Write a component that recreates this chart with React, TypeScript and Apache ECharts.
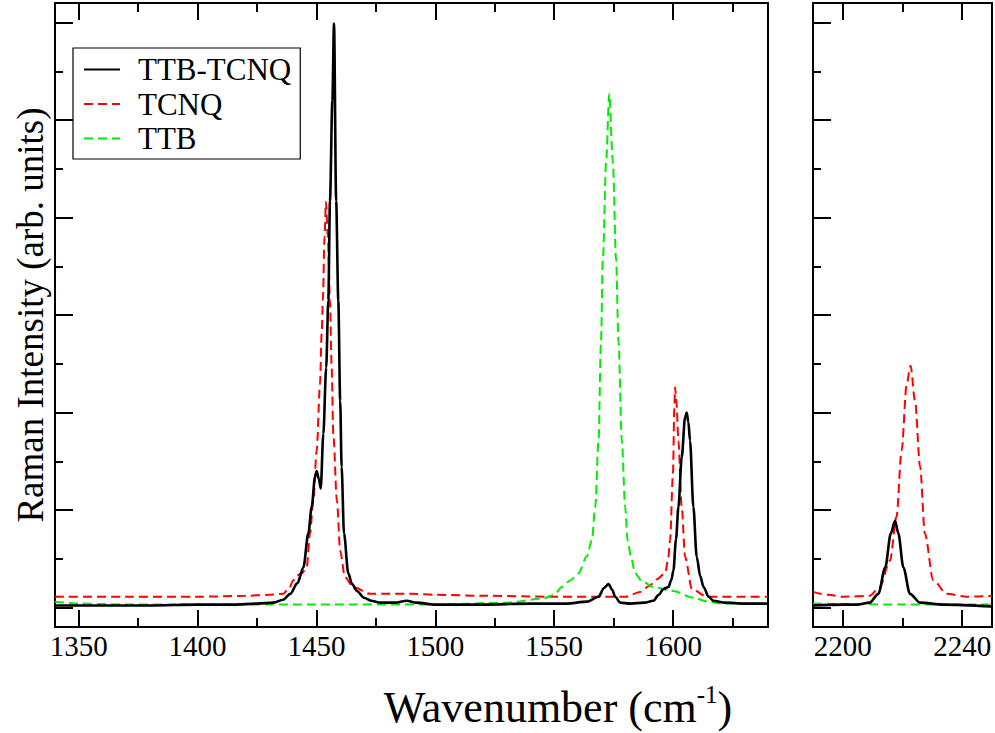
import React, { useEffect, useRef } from "react";
import * as echarts from "echarts";

// ---- axis ticks / labels ----
const leftXMajor = [1350, 1400, 1450, 1500, 1550, 1600];
const leftXMinor = [1375, 1425, 1475, 1525, 1575, 1625];
const rightXMajor = [2200, 2240];
const rightXMinor = [2220];
const yMajor = [0, 1, 2, 3, 4, 5, 6];
const yMinor = [0.5, 1.5, 2.5, 3.5, 4.5, 5.5];

// ---- left panel (1340–1640 cm-1) ----
const ttbTcnqLeft = [
  [1340, 0.02], [1360, 0.02], [1380, 0.02], [1400, 0.03], [1415, 0.03], [1425, 0.04],
  [1432, 0.05], [1436, 0.08], [1439, 0.14], [1442, 0.25], [1444.5, 0.41], [1446.6, 0.76],
  [1448, 1.03], [1449.4, 1.34], [1450.1, 1.4], [1451, 1.32], [1451.8, 1.22], [1452.9, 1.78],
  [1454.1, 2.46], [1455, 3.15], [1455.7, 4.17], [1456.7, 5.2], [1457.4, 5.99], [1458.3, 4.17],
  [1459.2, 3.15], [1460, 2.12], [1460.6, 1.44], [1461.6, 0.76], [1463.4, 0.35], [1465, 0.24],
  [1467, 0.17], [1470, 0.1], [1473, 0.07], [1477, 0.05], [1483, 0.05], [1488, 0.07],
  [1492, 0.05], [1500, 0.03], [1520, 0.03], [1540, 0.04], [1555, 0.04], [1564, 0.06],
  [1568.7, 0.11], [1571, 0.2], [1572.9, 0.24], [1574.5, 0.18], [1575.7, 0.11], [1577.8, 0.05],
  [1582, 0.04], [1588, 0.05], [1591.8, 0.07], [1594, 0.13], [1596, 0.19], [1598.1, 0.21],
  [1599.3, 0.28], [1600.2, 0.38], [1601.3, 0.7], [1602.3, 1.03], [1603.7, 1.54], [1605.1, 1.95],
  [1605.8, 2.0], [1606.5, 1.9], [1607.2, 1.71], [1608.6, 1.03], [1610, 0.52], [1611.5, 0.32],
  [1612.9, 0.21], [1615, 0.11], [1617, 0.07], [1622, 0.05], [1630, 0.04], [1640, 0.04],
];
const tcnqLeft = [
  [1340, 0.11], [1370, 0.11], [1400, 0.11], [1420, 0.12], [1430, 0.13], [1436, 0.14],
  [1438.5, 0.2], [1440.3, 0.28], [1442, 0.33], [1443.8, 0.35], [1445.9, 0.41], [1447.3, 0.76],
  [1448.7, 1.1], [1450.1, 1.61], [1451.5, 2.29], [1452.2, 2.81], [1452.7, 3.15], [1453.4, 3.8],
  [1454, 4.16], [1454.8, 3.8], [1455.7, 3.15], [1456.4, 2.46], [1457.1, 1.78], [1458.6, 1.1],
  [1460, 0.58], [1462, 0.31], [1465.5, 0.21], [1472.6, 0.14], [1490, 0.14], [1500, 0.13],
  [1520, 0.12], [1550, 0.11], [1580, 0.11], [1586.2, 0.16], [1590, 0.22], [1593.2, 0.29],
  [1596.7, 0.35], [1598, 0.5], [1598.8, 0.69], [1600, 1.37], [1600.6, 2.05], [1600.9, 2.26],
  [1601.5, 2.1], [1602.3, 1.71], [1603.7, 1.03], [1605.1, 0.52], [1608, 0.19], [1614.3, 0.11],
  [1640, 0.11],
];
const ttbLeft = [
  [1340, 0.06], [1350, 0.04], [1370, 0.03], [1400, 0.03], [1450, 0.03], [1500, 0.03],
  [1530, 0.05], [1545, 0.09], [1550, 0.13], [1553.3, 0.21], [1557, 0.28], [1560.2, 0.35],
  [1563.7, 0.52], [1565.9, 0.69], [1567.3, 1.03], [1568.7, 1.71], [1569.7, 2.7], [1570.5, 3.56],
  [1571.9, 4.58], [1573.2, 5.27], [1574.7, 4.58], [1576.1, 3.56], [1577.1, 2.72], [1578.5, 1.71],
  [1579.9, 1.03], [1580.9, 0.69], [1582.5, 0.5], [1584.1, 0.35], [1587, 0.27], [1591.7, 0.21],
  [1600, 0.17], [1608.5, 0.1], [1615, 0.06], [1620, 0.04], [1640, 0.04],
];

// ---- right panel (2190–2250 cm-1) ----
const ttbTcnqRight = [
  [2190, 0.02], [2200, 0.03], [2205, 0.03], [2209, 0.05], [2211.9, 0.14], [2214.2, 0.41],
  [2216.1, 0.76], [2217.5, 0.89], [2218.6, 0.76], [2220.3, 0.41], [2222.5, 0.14], [2225.9, 0.05],
  [2233.7, 0.03], [2250, 0.01],
];
const tcnqRight = [
  [2190, 0.16], [2195, 0.13], [2200, 0.11], [2209, 0.12], [2212.4, 0.21], [2215.8, 0.48],
  [2218, 0.93], [2219.7, 1.61], [2221.4, 2.29], [2222.7, 2.48], [2224.2, 2.12], [2225.9, 1.44],
  [2227.5, 0.76], [2230.3, 0.28], [2234.8, 0.14], [2241.5, 0.11], [2250, 0.12],
];
const ttbRight = [[2190, 0.04], [2220, 0.03], [2250, 0.03]];

const FONT = "Liberation Serif";

function xAxes(gridIndex: number, min: number, max: number, major: number[], minor: number[]) {
  const base = {
    type: "value", gridIndex, min, max,
    splitLine: { show: false },
    axisLine: { show: false, onZero: false },
  };
  const tick = (vals: number[], len: number) => ({
    show: true, inside: true, length: len, customValues: vals,
    lineStyle: { color: "#000", width: 2 },
  });
  return [
    {
      ...base, position: "bottom", axisTick: tick(major, 17),
      axisLabel: {
        show: true, customValues: major, margin: 4,
        fontSize: 29, fontFamily: FONT, color: "#000",
        formatter: (v: number) => "{t|" + String(v) + "}",
        rich: { t: { fontSize: 29, fontFamily: FONT, color: "#000", lineHeight: 30 } },
      },
    },
    { ...base, position: "bottom", axisTick: tick(minor, 9), axisLabel: { show: false } },
    { ...base, position: "top", axisTick: tick(major, 17), axisLabel: { show: false } },
    { ...base, position: "top", axisTick: tick(minor, 9), axisLabel: { show: false } },
  ];
}

function yAxes(gridIndex: number) {
  const base = {
    type: "value", gridIndex, min: -0.2, max: 6.2, position: "left",
    splitLine: { show: false },
    axisLine: { show: false, onZero: false },
    axisLabel: { show: false },
  };
  const tick = (vals: number[], len: number) => ({
    show: true, inside: true, length: len, customValues: vals,
    lineStyle: { color: "#000", width: 2 },
  });
  return [
    { ...base, axisTick: tick(yMajor, 18) },
    { ...base, axisTick: tick(yMinor, 8) },
  ];
}

const lineSeries = (name: string, data: number[][], xi: number, yi: number) => {
  const isBlack = name === "TTB-TCNQ";
  const color = isBlack ? "#000000" : name === "TCNQ" ? "#ff0000" : "#00ee00";
  return {
    name, type: "line", data, xAxisIndex: xi, yAxisIndex: yi,
    showSymbol: false, symbol: "none", smooth: 0.3, smoothMonotone: "x",
    clip: true, z: isBlack ? 4 : 3,
    lineStyle: { color, width: isBlack ? 2.6 : 2, type: isBlack ? "solid" : [9, 5] },
    itemStyle: { color },
  };
};

export default function App() {
  const ref = useRef<HTMLDivElement>(null);
  useEffect(() => {
    if (!ref.current) return;
    const chart = echarts.init(ref.current, undefined, { renderer: "svg" });
    chart.setOption({
      animation: false,
      backgroundColor: "#fff",
      textStyle: { fontFamily: FONT, color: "#000" },
      grid: [
        { left: 55, top: 3, width: 713, height: 624, show: true, borderColor: "#000", borderWidth: 2 },
        { left: 813, top: 3, width: 179, height: 624, show: true, borderColor: "#000", borderWidth: 2 },
      ],
      xAxis: [
        ...xAxes(0, 1340, 1640, leftXMajor, leftXMinor),
        ...xAxes(1, 2190, 2250, rightXMajor, rightXMinor),
      ],
      yAxis: [...yAxes(0), ...yAxes(1)],
      legend: {
        data: ["TTB-TCNQ", "TCNQ", "TTB"],
        orient: "vertical", left: 73, top: 48,
        itemWidth: 36, itemHeight: 2, itemGap: 3.5,
        padding: [6, 9, 5, 10],
        borderColor: "#000", borderWidth: 1.2, backgroundColor: "#fff",
        selectedMode: false,
        itemStyle: { opacity: 0 },
        textStyle: { fontFamily: FONT, fontSize: 31, color: "#000", lineHeight: 30, padding: [0, 0, 0, 13] },
      },
      graphic: [
        {
          type: "text", x: 30, y: 315, rotation: Math.PI / 2,
          style: {
            text: "Raman Intensity (arb. units)", fontSize: 37, fontFamily: FONT,
            fill: "#000", align: "center", verticalAlign: "middle",
          },
        },
        {
          type: "text", x: 558, y: 732,
          style: {
            text: "{m|Wavenumber (cm}{s|-1}{m|)}",
            align: "center", verticalAlign: "bottom", fill: "#000",
            rich: {
              m: { fontSize: 44, fontFamily: FONT, fill: "#000", lineHeight: 50, verticalAlign: "middle" },
              s: { fontSize: 25, fontFamily: FONT, fill: "#000", lineHeight: 22, verticalAlign: "top" },
            },
          },
        },
      ],
      series: [
        lineSeries("TCNQ", tcnqLeft, 0, 0),
        lineSeries("TTB", ttbLeft, 0, 0),
        lineSeries("TTB-TCNQ", ttbTcnqLeft, 0, 0),
        lineSeries("TCNQ", tcnqRight, 4, 2),
        lineSeries("TTB", ttbRight, 4, 2),
        lineSeries("TTB-TCNQ", ttbTcnqRight, 4, 2),
      ],
    });
    return () => chart.dispose();
  }, []);
  return <div ref={ref} style={{ position: "fixed", left: 0, top: 0, width: 995, height: 733 }} />;
}
